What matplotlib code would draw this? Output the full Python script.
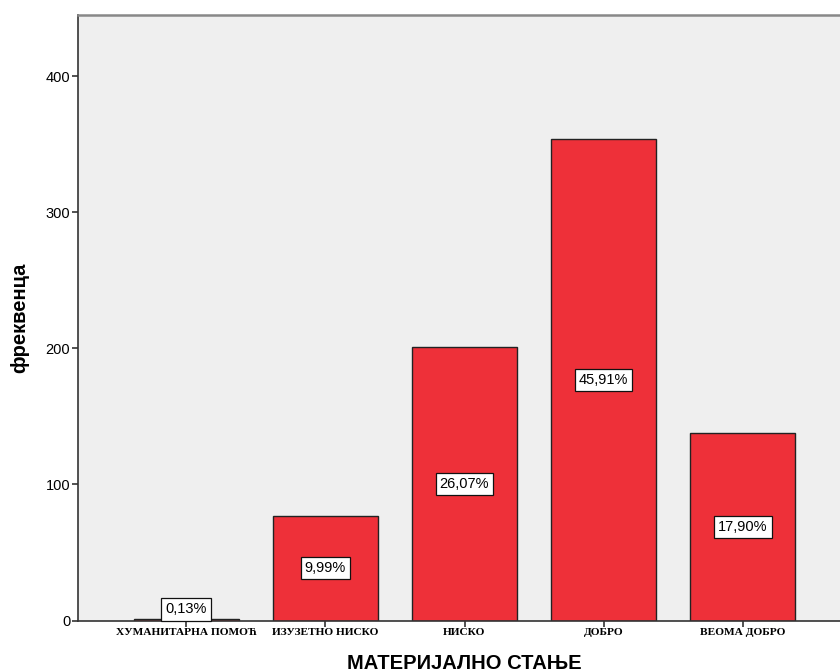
import numpy as np
import matplotlib.pyplot as plt

# categories and counts
categories = ['ХУМАНИТАРНА ПОМОЋ', 'ИЗУЗЕТНО НИСКО', 'НИСКО', 'ДОБРО', 'ВЕОМА ДОБРО']
counts = [1, 77, 201, 354, 138]
percent_labels = ['0,13%', '9,99%', '26,07%', '45,91%', '17,90%']
y_ticks = [0, 100, 200, 300, 400]

bar_color = '#EE3039'
bg_color = '#EFEFEF'

fig = plt.figure(figsize=(8.4, 6.72), dpi=100)
# the plot area runs a little past the right edge, as in the reference
ax = fig.add_axes([78 / 840, 1 - 620.5 / 672, 773 / 840, 605.5 / 672])
ax.set_facecolor(bg_color)

x = np.arange(len(categories))
ax.bar(x, counts, width=0.755, color=bar_color, edgecolor='#222222', linewidth=1.0, zorder=2)

for xi, h, lab in zip(x, counts, percent_labels):
    if h < 20:
        y, va = h + 2, 'bottom'
    else:
        y, va = h / 2, 'center'
    ax.text(xi, y, lab, ha='center', va=va, fontsize=10.5, family='Liberation Sans',
            zorder=3, bbox=dict(boxstyle='square,pad=0.28', facecolor='white',
                                edgecolor='#111111', linewidth=0.9))

ax.set_xlim(-0.777, 4.777)
ax.set_ylim(0, 445)
ax.set_yticks(y_ticks)
ax.set_yticklabels([str(t) for t in y_ticks], fontsize=10.5, family='Liberation Sans')
ax.set_xticks(x)
ax.set_xticklabels(categories, fontsize=8.2, family='Liberation Serif', fontweight='bold')
ax.tick_params(axis='both', direction='out', length=4, width=1.2, color='#333333', pad=1.5)

ax.spines['top'].set_color('#888888')
ax.spines['top'].set_linewidth(1.8)
ax.spines['right'].set_visible(False)
ax.spines['left'].set_color('#333333')
ax.spines['left'].set_linewidth(1.2)
ax.spines['bottom'].set_color('#333333')
ax.spines['bottom'].set_linewidth(1.2)

ax.set_xlabel('МАТЕРИЈАЛНО СТАЊЕ', fontsize=14.5, fontweight='bold', family='Liberation Sans', labelpad=12)
ax.set_ylabel('фреквенца', fontsize=14.5, fontweight='bold', family='Liberation Sans', labelpad=12)

plt.savefig('out.png', dpi=100)
